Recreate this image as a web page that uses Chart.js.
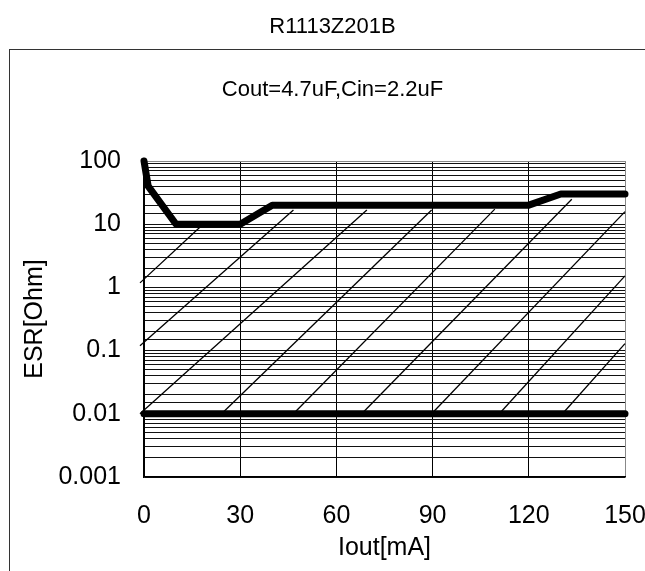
<!DOCTYPE html>
<html>
<head>
<meta charset="utf-8">
<script src="https://cdn.jsdelivr.net/npm/chart.js@4.4.0/dist/chart.umd.min.js"></script>
<style>
    body { margin: 0; background: #fff; }
    #wrap { position: relative; width: 645px; height: 571px; overflow: hidden; }
    #frame { position: absolute; left: 9px; top: 49px; width: 700px; height: 600px;
             border-left: 1.5px solid #333; border-top: 1.5px solid #333; }
    canvas { position: absolute; left: 0; top: 0; }
</style>
</head>
<body>
<div id="wrap">
    <div id="frame"></div>
    <canvas id="esrChart" width="645" height="571"></canvas>
</div>
<script>
// --- DATA ---
// batas atas daerah stabil (Iout mA, ESR Ohm)
const upperX = [0, 1.3, 10, 30, 40, 120, 130, 150];
const upperY = [100, 40, 10, 10, 20, 20, 30, 30];
// batas bawah
const lowerX = [0, 150];
const lowerY = [0.01, 0.01];
// garis arsir (awal -> akhir)
const hatchX0 = [-1.25, -1.25, -1.25, 24.2, 46.6, 67.9, 89.7, 110.8, 130.5];
const hatchY0 = [1.18, 0.119, 0.01, 0.01, 0.01, 0.01, 0.01, 0.01, 0.01];
const hatchX1 = [17.5, 46.6, 69.5, 89.7, 109.4, 133.4, 150, 150, 150];
const hatchY1 = [9, 16.8, 16.8, 16.8, 17.3, 24.8, 15.8, 1.52, 0.129];
// sumbu
const xTicks = [0, 30, 60, 90, 120, 150];
const yMin = 0.001, yMax = 100;

const toPts = (xs, ys) => xs.map((x, i) => ({ x: x, y: ys[i] }));

let datasets = [
    { data: toPts(upperX, upperY), borderColor: '#000', borderWidth: 7, tension: 0,
      borderCapStyle: 'round', borderJoinStyle: 'round', pointRadius: 0, clip: false },
    { data: toPts(lowerX, lowerY), borderColor: '#000', borderWidth: 7,
      borderCapStyle: 'round', pointRadius: 0, clip: false }
];
hatchX0.forEach((x0, i) => {
    datasets.push({
        data: [{ x: x0, y: hatchY0[i] }, { x: hatchX1[i], y: hatchY1[i] }],
        borderColor: '#000', borderWidth: 1.3, pointRadius: 0, clip: false
    });
});

const isDecade = v => Math.abs(Math.log10(v) - Math.round(Math.log10(v))) < 1e-6;
const FONT = 'Liberation Sans';

const ctx = document.getElementById('esrChart').getContext('2d');
let esrChart = new Chart(ctx, {
    type: 'line',
    data: { datasets: datasets },
    options: {
        responsive: false,
        devicePixelRatio: 1,
        animation: false,
        layout: { padding: { top: 13.8, left: 20, right: 0, bottom: 8 } },
        plugins: {
            legend: { display: false },
            tooltip: { enabled: false },
            title: {
                display: true, text: 'R1113Z201B', color: '#000',
                font: { family: FONT, size: 22, weight: 'normal' },
                padding: { top: 0, bottom: 36.6 }
            },
            subtitle: {
                display: true, text: 'Cout=4.7uF,Cin=2.2uF', color: '#000',
                font: { family: FONT, size: 22, weight: 'normal' },
                padding: { top: 0, bottom: 57.8 }
            }
        },
        scales: {
            x: {
                type: 'linear', min: xTicks[0], max: xTicks[xTicks.length - 1],
                afterBuildTicks: s => { s.ticks = xTicks.map(v => ({ value: v })); },
                afterFit: s => { s.height = 86; s.paddingRight = 20; },
                ticks: { color: '#000', padding: 24, maxRotation: 0,
                         font: { family: FONT, size: 25 } },
                grid: { drawTicks: false, lineWidth: 1,
                        color: c => (c.tick && c.tick.value === 150) ? '#888' : '#000' },
                border: { color: '#000', width: 1.5 },
                title: { display: true, text: 'Iout[mA]', color: '#000',
                         font: { family: FONT, size: 25 },
                         padding: { top: 0, bottom: 0 } }
            },
            y: {
                type: 'logarithmic', min: yMin, max: yMax,
                afterFit: s => { s.width = 124; },
                ticks: {
                    color: '#000', padding: 23, autoSkip: false,
                    font: { family: FONT, size: 25 },
                    callback: v => isDecade(v) ? String(Number(v.toPrecision(1))) : ''
                },
                grid: { drawTicks: false, lineWidth: 1,
                        color: c => (c.tick && c.tick.value === yMax) ? '#888' : '#111' },
                border: { color: '#000', width: 1.5 },
                title: { display: true, text: 'ESR[Ohm]', color: '#000',
                         font: { family: FONT, size: 25 },
                         padding: { top: 0, bottom: 0 } }
            }
        }
    }
});
</script>
</body>
</html>
